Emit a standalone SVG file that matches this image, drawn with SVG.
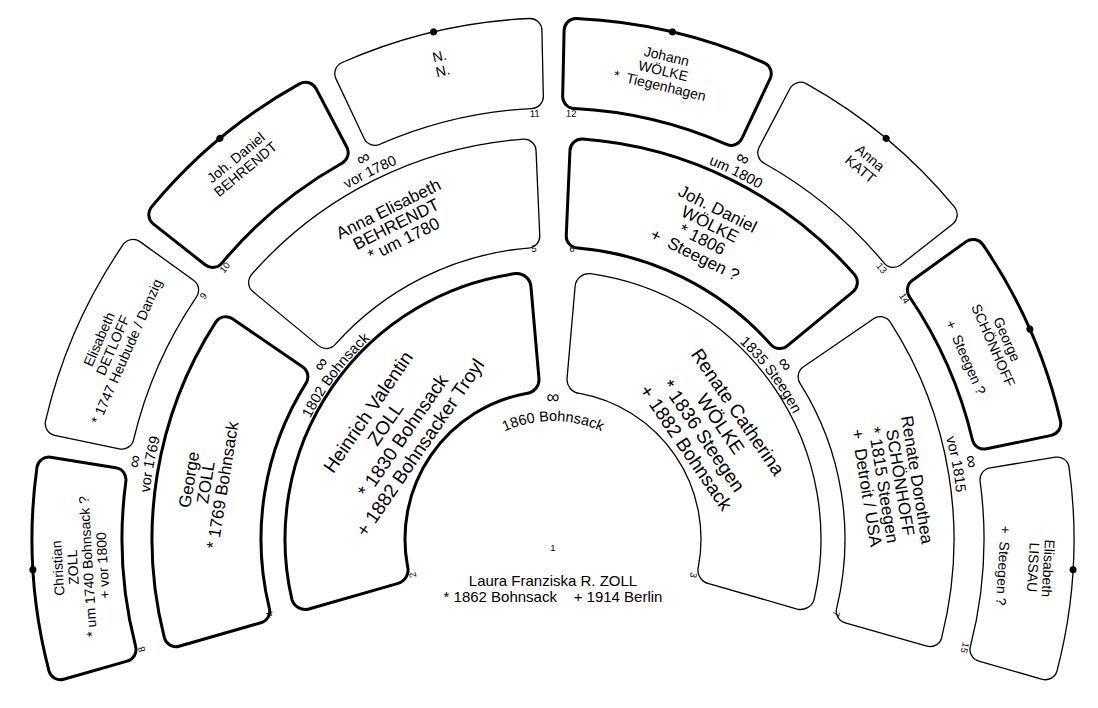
<svg xmlns="http://www.w3.org/2000/svg" xmlns:xlink="http://www.w3.org/1999/xlink" width="1098" height="708" viewBox="0 0 1098 708">
<style>
.box{fill:#fff;stroke:#000;stroke-linejoin:round}
.m{stroke-width:3}
.f{stroke-width:1.3}
text{font-family:"Liberation Sans",Arial,sans-serif;fill:#000}
.t1{font-size:19px;text-anchor:middle}
.t2{font-size:17px;text-anchor:middle}
.t3{font-size:14px;text-anchor:middle}
.t0{font-size:15px;text-anchor:middle}
.num{font-size:9.5px;text-anchor:middle}
.inf{font-size:18px;text-anchor:middle}
.mar{font-size:14.5px;text-anchor:middle}
.dot{fill:#000}
</style>
<defs>
<path id="sA" d="M -195.99,-161.56 A 14 14 0 0 1 -197.61,-181.03 A 268 268 0 0 1 197.61,-181.03 A 14 14 0 0 1 195.99,-161.56 L 125.00,-103.04 A 14 14 0 0 1 104.80,-104.51 A 148 148 0 0 0 -104.80,-104.51 A 14 14 0 0 1 -125.00,-103.04 Z"/>
<path id="sB" d="M -158.22,-355.37 A 12 12 0 0 1 -152.07,-371.05 A 401 401 0 0 1 152.07,-371.05 A 12 12 0 0 1 158.22,-355.37 L 123.65,-277.72 A 12 12 0 0 1 107.71,-271.41 A 292 292 0 0 0 -107.71,-271.41 A 12 12 0 0 1 -123.65,-277.72 Z"/>
<path id="sB2" d="M -165.94,-351.83 A 12 12 0 0 1 -160.13,-367.64 A 401 401 0 0 1 160.13,-367.64 A 12 12 0 0 1 165.94,-351.83 L 129.68,-274.96 A 12 12 0 0 1 113.60,-268.99 A 292 292 0 0 0 -113.60,-268.99 A 12 12 0 0 1 -129.68,-274.96 Z"/>
<path id="sC" d="M -105.83,-497.88 A 12 12 0 0 1 -96.56,-511.98 A 521 521 0 0 1 96.56,-511.98 A 12 12 0 0 1 105.83,-497.88 L 92.10,-433.32 A 12 12 0 0 1 77.84,-423.91 A 431 431 0 0 0 -77.84,-423.91 A 12 12 0 0 1 -92.10,-433.32 Z"/>
<path id="sC2" d="M -111.25,-496.69 A 12 12 0 0 1 -102.14,-510.89 A 521 521 0 0 1 102.14,-510.89 A 12 12 0 0 1 111.25,-496.69 L 96.83,-432.29 A 12 12 0 0 1 82.46,-423.04 A 431 431 0 0 0 -82.46,-423.04 A 12 12 0 0 1 -96.83,-432.29 Z"/>
<path id="arc1" d="M -116.21,-20.49 A 118 118 0 0 1 116.21,-20.49"/>
<path id="arc2" d="M -266.88,-47.06 A 271 271 0 0 1 266.88,-47.06"/>
<path id="arc3" d="M -399.83,-70.50 A 406 406 0 0 1 399.83,-70.50"/>
</defs>
<rect width="1098" height="708" fill="#fff"/>

<g id="p1">
<text class="num" x="553" y="551">1</text>
<text class="t0" x="553" y="585.5">Laura Franziska R. ZOLL</text>
<text class="t0" x="553" y="601.5" xml:space="preserve">* 1862 Bohnsack    + 1914 Berlin</text>
</g>

<g id="p2">
<g transform="translate(553,539) rotate(-55.5)">
<use href="#sA" class="box m"/>
<text class="t1" y="-217.85">Heinrich Valentin</text>
<text class="t1" y="-196.85">ZOLL</text>
<text class="t1" y="-175.85">* 1830 Bohnsack</text>
<text class="t1" y="-154.85">+ 1882 Bohnsacker Troyl</text>
</g>
<text class="num" transform="translate(553,539) rotate(-104.4)" y="-141.7">2</text>
</g>

<g id="p3">
<g transform="translate(553,539) rotate(55.5)">
<use href="#sA" class="box f"/>
<text class="t1" y="-217.85">Renate Catherina</text>
<text class="t1" y="-196.85">WÖLKE</text>
<text class="t1" y="-175.85">* 1836 Steegen</text>
<text class="t1" y="-154.85">+ 1882 Bohnsack</text>
</g>
<text class="num" transform="translate(553,539) rotate(104.4)" y="-141.7">3</text>
</g>

<g id="p4">
<g transform="translate(553,539) rotate(-80.75)">
<use href="#sB2" class="box m"/>
<text class="t2" y="-363.05">George</text>
<text class="t2" y="-346.05">ZOLL</text>
<text class="t2" y="-329.05">* 1769 Bohnsack</text>
</g>
<text class="num" transform="translate(553,539) rotate(-104.8)" y="-289.7">4</text>
</g>

<g id="p5">
<g transform="translate(553,539) rotate(-26.5)">
<use href="#sB" class="box f"/>
<text class="t2" y="-363.05">Anna Elisabeth</text>
<text class="t2" y="-346.05">BEHRENDT</text>
<text class="t2" y="-329.05">* um 1780</text>
</g>
<text class="num" transform="translate(553,539) rotate(-3.75)" y="-287.7">5</text>
</g>

<g id="p6">
<g transform="translate(553,539) rotate(26.5)">
<use href="#sB" class="box m"/>
<text class="t2" y="-363.05">Joh. Daniel</text>
<text class="t2" y="-346.05">WÖLKE</text>
<text class="t2" y="-329.05">* 1806</text>
<text class="t2" y="-312.05" xml:space="preserve">+  Steegen ?</text>
</g>
<text class="num" transform="translate(553,539) rotate(3.75)" y="-287.7">6</text>
</g>

<g id="p7">
<g transform="translate(553,539) rotate(80.75)">
<use href="#sB2" class="box f"/>
<text class="t2" y="-363.05">Renate Dorothea</text>
<text class="t2" y="-346.05">SCHÖNHOFF</text>
<text class="t2" y="-329.05">* 1815 Steegen</text>
<text class="t2" y="-312.05" xml:space="preserve">+  Detroit / USA</text>
</g>
<text class="num" transform="translate(553,539) rotate(104.8)" y="-289.7">7</text>
</g>

<g id="p8">
<g transform="translate(553,539) rotate(-93.375)">
<use href="#sC2" class="box m"/>
<circle class="dot" cx="0" cy="-521" r="3.5"/>
<text class="t3" y="-491.1">Christian</text>
<text class="t3" y="-476.1">ZOLL</text>
<text class="t3" y="-461.1">* um 1740 Bohnsack ?</text>
<text class="t3" y="-446.1">+ vor 1800</text>
</g>
<text class="num" transform="translate(553,539) rotate(-105)" y="-422.7">8</text>
</g>

<g id="p9">
<g transform="translate(553,539) rotate(-66.25)">
<use href="#sC" class="box f"/>
<text class="t3" y="-491.1">Elisabeth</text>
<text class="t3" y="-476.1">DETLOFF</text>
<text class="t3" y="-461.1">* 1747 Heubude / Danzig</text>
</g>
<text class="num" transform="translate(553,539) rotate(-55.2)" y="-422.7">9</text>
</g>

<g id="p10">
<g transform="translate(553,539) rotate(-39.75)">
<use href="#sC" class="box m"/>
<circle class="dot" cx="0" cy="-521" r="3.5"/>
<text class="t3" y="-491.1">Joh. Daniel</text>
<text class="t3" y="-476.1">BEHRENDT</text>
</g>
<text class="num" transform="translate(553,539) rotate(-50.4)" y="-422.7">10</text>
</g>

<g id="p11">
<g transform="translate(553,539) rotate(-13.25)">
<use href="#sC" class="box f"/>
<circle class="dot" cx="0" cy="-521" r="3.5"/>
<text class="t3" y="-491.1">N.</text>
<text class="t3" y="-476.1">N.</text>
</g>
<text class="num" transform="translate(553,539) rotate(-2.45)" y="-422.7">11</text>
</g>

<g id="p12">
<g transform="translate(553,539) rotate(13.25)">
<use href="#sC" class="box m"/>
<circle class="dot" cx="0" cy="-521" r="3.5"/>
<text class="t3" y="-491.1">Johann</text>
<text class="t3" y="-476.1">WÖLKE</text>
<text class="t3" y="-461.1" xml:space="preserve">*  Tiegenhagen</text>
</g>
<text class="num" transform="translate(553,539) rotate(2.45)" y="-422.7">12</text>
</g>

<g id="p13">
<g transform="translate(553,539) rotate(39.75)">
<use href="#sC" class="box f"/>
<circle class="dot" cx="0" cy="-521" r="3.5"/>
<text class="t3" y="-491.1">Anna</text>
<text class="t3" y="-476.1">KATT</text>
</g>
<text class="num" transform="translate(553,539) rotate(50.5)" y="-422.7">13</text>
</g>

<g id="p14">
<g transform="translate(553,539) rotate(66.25)">
<use href="#sC" class="box m"/>
<circle class="dot" cx="0" cy="-521" r="3.5"/>
<text class="t3" y="-491.1">George</text>
<text class="t3" y="-476.1">SCHÖNHOFF</text>
<text class="t3" y="-446.1" xml:space="preserve">+  Steegen ?</text>
</g>
<text class="num" transform="translate(553,539) rotate(55.6)" y="-422.7">14</text>
</g>

<g id="p15">
<g transform="translate(553,539) rotate(93.375)">
<use href="#sC2" class="box f"/>
<circle class="dot" cx="0" cy="-521" r="3.5"/>
<text class="t3" y="-491.1">Elisabeth</text>
<text class="t3" y="-476.1">LISSAU</text>
<text class="t3" y="-446.1" xml:space="preserve">+  Steegen ?</text>
</g>
<text class="num" transform="translate(553,539) rotate(104.8)" y="-422.7">15</text>
</g>

<g id="marriages">
<g transform="translate(553,539)">
<text class="inf" y="-136.5">∞</text>
<text class="mar"><textPath href="#arc1" startOffset="50%">1860 Bohnsack</textPath></text>
</g>
<g transform="translate(553,539) rotate(-53)">
<text class="inf" y="-284.6">∞</text>
<text class="mar"><textPath href="#arc2" startOffset="50%">1802 Bohnsack</textPath></text>
</g>
<g transform="translate(553,539) rotate(53)">
<text class="inf" y="-284.6">∞</text>
<text class="mar"><textPath href="#arc2" startOffset="50%">1835 Steegen</textPath></text>
</g>
<g transform="translate(553,539) rotate(-79.5)">
<text class="inf" y="-419.6">∞</text>
<text class="mar"><textPath href="#arc3" startOffset="50%">vor 1769</textPath></text>
</g>
<g transform="translate(553,539) rotate(-26.5)">
<text class="inf" y="-419.6">∞</text>
<text class="mar"><textPath href="#arc3" startOffset="50%">vor 1780</textPath></text>
</g>
<g transform="translate(553,539) rotate(26.5)">
<text class="inf" y="-419.6">∞</text>
<text class="mar"><textPath href="#arc3" startOffset="50%">um 1800</textPath></text>
</g>
<g transform="translate(553,539) rotate(79.5)">
<text class="inf" y="-419.6">∞</text>
<text class="mar"><textPath href="#arc3" startOffset="50%">vor 1815</textPath></text>
</g>
</g>
</svg>
